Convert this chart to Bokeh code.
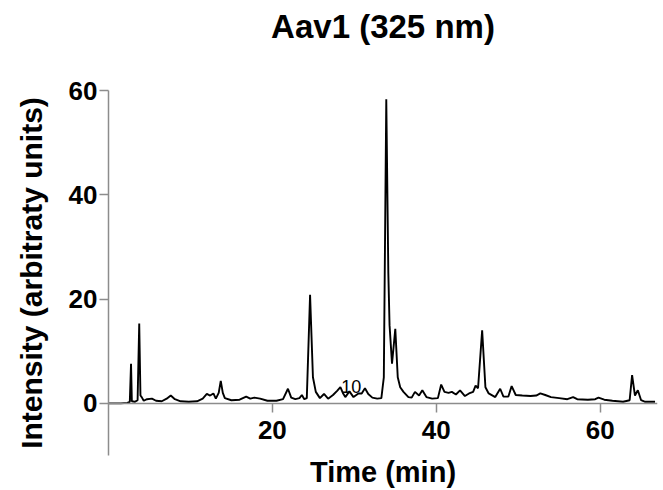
from bokeh.plotting import figure
from bokeh.models import ColumnDataSource, FixedTicker, Range1d, LinearAxis, Title
from bokeh.core.properties import value
from bokeh.embed import file_html
from bokeh.resources import INLINE

# Chromatogram trace: retention time (min) and detector intensity at 325 nm
time_min = [
    0.0, 1.5, 2.3, 2.6, 2.75, 2.85, 3.2, 3.55, 3.75, 3.9, 4.05, 4.3, 4.7, 5.3,
    5.8, 6.5, 7.1, 7.6, 8.1, 8.8, 9.8, 10.8, 11.5, 12.0, 12.4, 12.8, 13.1,
    13.45, 13.7, 13.95, 14.2, 15.0, 16.0, 16.8, 17.3, 17.8, 18.5, 19.4, 20.5,
    21.3, 21.9, 22.3, 22.8, 23.3, 23.6, 23.9, 24.2, 24.6, 24.95, 25.3, 25.8,
    26.3, 26.8, 27.4, 27.9, 28.3, 28.6, 28.9, 29.4, 29.9, 30.5, 30.9, 31.3,
    31.7, 32.2, 32.8, 33.3, 33.6, 33.9, 34.15, 34.3, 34.6, 35.0, 35.3, 35.6,
    36.0, 36.6, 37.0, 37.4, 37.9, 38.3, 38.8, 39.5, 40.2, 40.6, 41.0, 41.5,
    41.9, 42.4, 42.9, 43.5, 44.0, 44.5, 44.8, 45.1, 45.6, 46.0, 46.4, 47.2,
    47.8, 48.2, 48.8, 49.2, 49.7, 50.5, 51.5, 52.2, 52.7, 53.3, 54.0, 55.0,
    56.0, 56.7, 57.2, 58.5, 59.4, 59.8, 60.5, 61.5, 62.8, 63.6, 63.9, 64.25,
    64.6, 65.0, 65.5, 66.7,
]
intensity = [
    0.0, 0.0, 0.1, 0.3, 7.6, 0.4, 0.3, 0.6, 15.3, 1.5, 1.2, 0.5, 0.8, 0.9,
    0.5, 0.4, 0.9, 1.5, 0.8, 0.4, 0.3, 0.4, 0.9, 1.8, 1.5, 1.9, 0.9,
    2.0, 4.3, 2.0, 1.0, 0.6, 0.7, 1.3, 0.9, 1.1, 0.9, 0.5, 0.5,
    0.8, 2.8, 1.1, 0.8, 1.0, 1.6, 0.8, 1.0, 20.8, 5.0, 2.2, 1.0,
    1.8, 0.9, 1.6, 2.4, 3.1, 2.0, 1.2, 2.3, 1.2, 1.9, 1.9, 2.9,
    1.8, 1.1, 0.9, 1.0, 5.0, 58.3, 25.0, 15.0, 7.6, 14.3, 5.0, 3.1,
    2.2, 1.2, 1.1, 2.2, 1.5, 2.5, 1.2, 0.9, 1.0, 3.6, 2.2, 2.0,
    2.2, 1.7, 2.5, 1.4, 1.9, 2.2, 3.4, 2.9, 14.0, 3.1, 1.9, 1.2,
    2.8, 1.3, 1.3, 3.3, 1.6, 1.5, 1.4, 1.5, 1.9, 1.6, 1.2, 1.0,
    0.8, 1.2, 0.8, 0.7, 0.8, 1.1, 0.7, 0.5, 0.3, 0.6, 5.4, 1.5,
    2.5, 0.6, 0.3, 0.3,
]

# Peak annotation
peak_labels = ["10"]
peak_label_time = [28.4]
peak_label_intensity = [3.25]

x_ticks = [20, 40, 60]
y_ticks = [0, 20, 40, 60]

FONT = "Liberation Sans"
AXIS_GREY = "#8c8c8c"

p = figure(
    width=663, height=490,
    output_backend="svg", toolbar_location=None,
    x_range=Range1d(0, 67), y_range=Range1d(-10, 60),
    min_border_left=108, min_border_right=6,
    min_border_top=89, min_border_bottom=34,
)
p.outline_line_color = None
p.grid.visible = False
p.background_fill_color = "white"
p.border_fill_color = "white"

# blank band between the plotting area and the heading
p.add_layout(Title(text=" ", text_font_size="1px", standoff=38), "above")
p.add_layout(Title(text="Aav1 (325 nm)", align="center", text_font=FONT,
                   text_font_size="33px", text_font_style="bold",
                   text_color="black", standoff=10), "above")

src = ColumnDataSource(dict(t=time_min, y=intensity))
p.line("t", "y", source=src, line_color="black", line_width=1.9)

p.text(x=peak_label_time, y=peak_label_intensity, text=peak_labels,
       text_font=value(FONT), text_font_size="18px", text_color="black",
       text_align="left", text_baseline="alphabetic")

for ax in (p.xaxis[0], p.yaxis[0]):
    ax.axis_line_color = AXIS_GREY
    ax.axis_line_width = 1.5
    ax.major_tick_line_color = AXIS_GREY
    ax.major_tick_line_width = 1.5
    ax.major_tick_in = 0
    ax.major_tick_out = 9
    ax.minor_tick_line_color = None
    ax.major_label_text_font = FONT
    ax.major_label_text_font_size = "26px"
    ax.major_label_text_font_style = "bold"
    ax.major_label_text_color = "black"
    ax.axis_label_text_font = FONT
    ax.axis_label_text_font_style = "bold"
    ax.axis_label_text_color = "black"

# x axis crosses the y axis at zero intensity
xa = p.xaxis[0]
xa.ticker = FixedTicker(ticks=x_ticks)
xa.fixed_location = 0
xa.major_label_standoff = 9

# time title sits under the plotting area
xt = LinearAxis(ticker=FixedTicker(ticks=[]), axis_label="Time (min)")
xt.axis_line_color = None
xt.major_tick_line_color = None
xt.minor_tick_line_color = None
xt.major_tick_out = 0
xt.major_label_standoff = 0
xt.axis_label_standoff = 0
xt.axis_label_text_font = FONT
xt.axis_label_text_font_size = "29px"
xt.axis_label_text_font_style = "bold"
xt.axis_label_text_color = "black"
p.add_layout(xt, "below")

ya = p.yaxis[0]
ya.ticker = FixedTicker(ticks=y_ticks)
ya.major_label_standoff = 2
ya.axis_label = "Intensity (arbitraty units)"
ya.axis_label_text_font_size = "30px"
ya.axis_label_standoff = 18

open("out.html", "w").write(file_html(p, INLINE))
